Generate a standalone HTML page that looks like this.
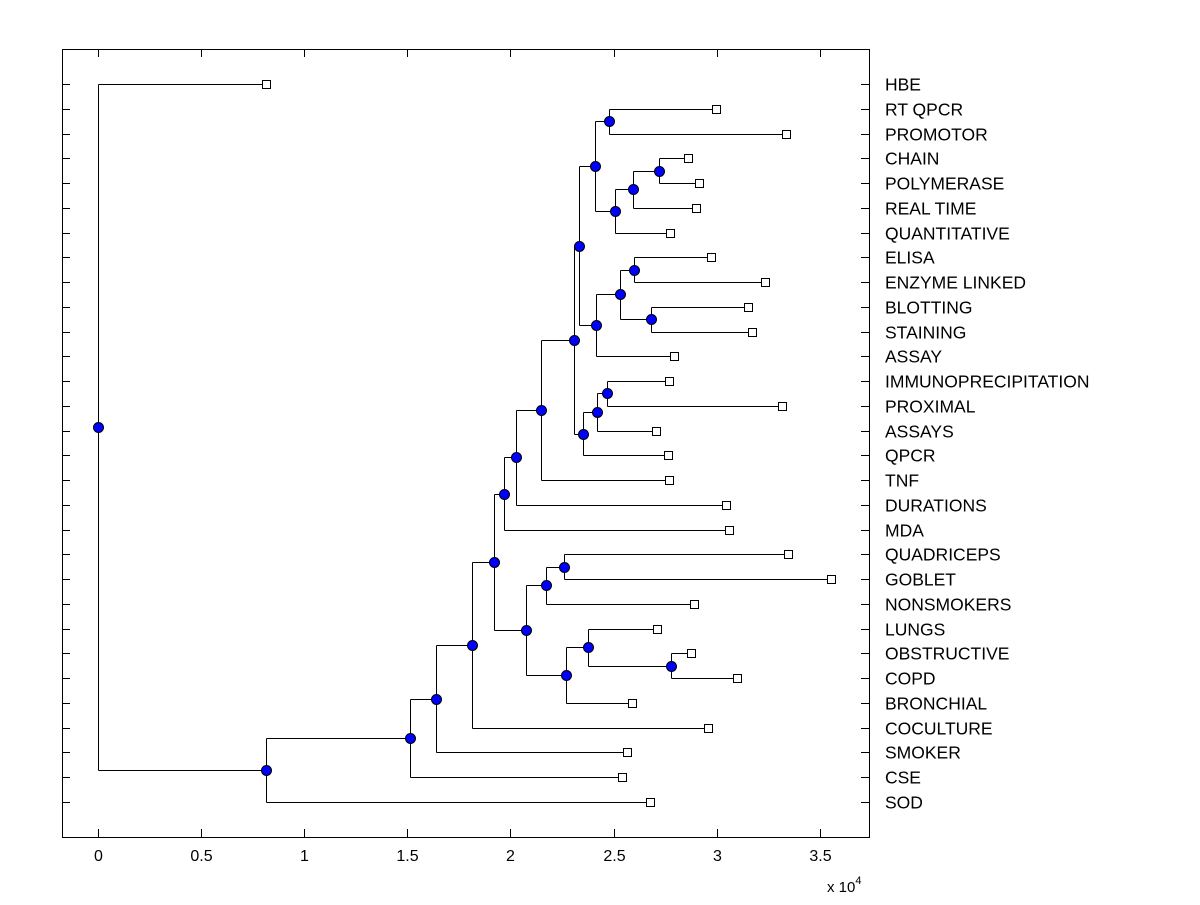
<!DOCTYPE html>
<html><head><meta charset="utf-8"><style>
body{margin:0;background:#fff;}
svg text{font-family:"Liberation Sans",Arial,sans-serif;}
</style></head><body>
<svg id="chart" width="1200" height="900" xmlns="http://www.w3.org/2000/svg">
<rect x="0" y="0" width="1200" height="900" fill="#fff"/>
</svg>
<script>
const leafLabels = ["HBE","RT QPCR","PROMOTOR","CHAIN","POLYMERASE","REAL TIME","QUANTITATIVE","ELISA","ENZYME LINKED","BLOTTING","STAINING","ASSAY","IMMUNOPRECIPITATION","PROXIMAL","ASSAYS","QPCR","TNF","DURATIONS","MDA","QUADRICEPS","GOBLET","NONSMOKERS","LUNGS","OBSTRUCTIVE","COPD","BRONCHIAL","COCULTURE","SMOKER","CSE","SOD"];
const leafValues = [0.815,2.997,3.337,2.861,2.915,2.900,2.774,2.973,3.235,3.152,3.172,2.793,2.769,3.317,2.706,2.764,2.769,3.046,3.060,3.346,3.555,2.890,2.711,2.876,3.099,2.590,2.958,2.565,2.541,2.677];
// internal nodes: [name, value, childA, childB]
const nodeNames = ["root","N1","N2","N3","N4","N5","N6","N8","N9","N10","N11","N13","N15","N16","N17","N18","N14","N19","N20","N21","N12","N22","N23","N7","N24","N26","N25","N27","N28"];
const nodeValues = [0,0.815,1.513,1.639,1.814,1.920,1.969,2.027,2.148,2.308,2.333,2.410,2.478,2.507,2.594,2.721,2.415,2.532,2.599,2.682,2.352,2.420,2.468,2.076,2.173,2.260,2.270,2.376,2.779];
const nodeChildA = ["HBE","N2","N3","N4","N5","N6","N8","N9","N10","N11","N13","N15","RT QPCR","N17","N18","CHAIN","N19","N20","ELISA","BLOTTING","N22","N23","IMMUNOPRECIPITATION","N24","N26","QUADRICEPS","N27","LUNGS","OBSTRUCTIVE"];
const nodeChildB = ["N1","SOD","CSE","SMOKER","COCULTURE","N7","MDA","DURATIONS","TNF","N12","N14","N16","PROMOTOR","QUANTITATIVE","REAL TIME","POLYMERASE","ASSAY","N21","ENZYME LINKED","STAINING","QPCR","ASSAYS","PROXIMAL","N25","NONSMOKERS","GOBLET","BRONCHIAL","N28","COPD"];
const xTicks = [0,0.5,1,1.5,2,2.5,3,3.5];

const svg = document.getElementById('chart');
const NS = "http://www.w3.org/2000/svg";
const L=62,R=869,T=49,B=837;
const xs = v => 98 + v*206.2;
const ys = i => 84 + i*(802-84)/29;
function mk(tag, attrs){const e=document.createElementNS(NS,tag);for(const k in attrs)e.setAttribute(k,attrs[k]);svg.appendChild(e);return e;}

const frame = mk('rect',{x:L+0.5,y:T+0.5,width:R-L,height:B-T,fill:'none',stroke:'#000','stroke-width':1});



xTicks.forEach(t=>{
  const x=Math.round(xs(t))+0.5;
  const a=mk('line',{x1:x,y1:B,x2:x,y2:B-8,stroke:'#000'});
  
  
  const b=mk('line',{x1:x,y1:T,x2:x,y2:T+8,stroke:'#000'});
  
  
  const tx=mk('text',{x:x,y:B+24,'text-anchor':'middle','font-size':16});
  tx.textContent=String(t);
  
  
});
const ex=mk('text',{x:827,y:892,'font-size':15});
ex.innerHTML='x 10<tspan dy="-8" font-size="11">4</tspan>';



const pos={};
leafLabels.forEach((n,i)=>{
  pos[n]={x:xs(leafValues[i]),y:ys(i),leaf:true};
  const y=Math.round(ys(i))+0.5;
  const a=mk('line',{x1:L,y1:y,x2:L+8,y2:y,stroke:'#000'});
  
  
  const b=mk('line',{x1:R-8,y1:y,x2:R,y2:y,stroke:'#000'});
  
  
  const t=mk('text',{x:885,y:y+6,'font-size':17.5});
  t.textContent=n;
  
  
});
function resolve(n){
  if(pos[n])return pos[n];
  const k=nodeNames.indexOf(n);
  const a=resolve(nodeChildA[k]), b=resolve(nodeChildB[k]);
  pos[n]={x:xs(nodeValues[k]),y:(a.y+b.y)/2,leaf:false};
  return pos[n];
}
nodeNames.forEach(resolve);
nodeNames.forEach((n,k)=>{
  const p=pos[n],a=pos[nodeChildA[k]],b=pos[nodeChildB[k]];
  const px=Math.round(p.x)+0.5;
  const v=mk('line',{x1:px,y1:Math.round(a.y)+0.5,x2:px,y2:Math.round(b.y)+0.5,stroke:'#000'});
  
  
  [a,b].forEach(c=>{
    const h=mk('line',{x1:px,y1:Math.round(c.y)+0.5,x2:Math.round(c.x)+0.5,y2:Math.round(c.y)+0.5,stroke:'#000'});
    
    
  });
});
leafLabels.forEach(n=>{
  const p=pos[n];
  const s=mk('rect',{x:Math.round(p.x)-3.5,y:Math.round(p.y)-3.5,width:8,height:8,fill:'#fff',stroke:'#000'});
  
  
});
nodeNames.forEach(n=>{
  const p=pos[n];
  const c=mk('circle',{cx:Math.round(p.x)+0.5,cy:Math.round(p.y)+0.5,r:5,fill:'#0000ff',stroke:'#000'});
  
  
});
</script>
</body></html>
